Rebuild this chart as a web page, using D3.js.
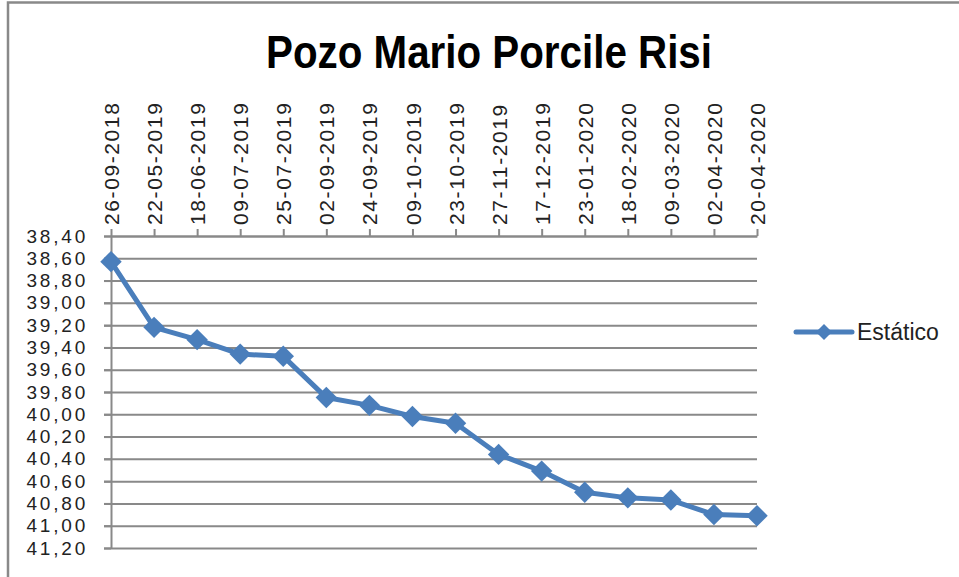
<!DOCTYPE html>
<html>
<head>
<meta charset="utf-8">
<script src="https://cdn.jsdelivr.net/npm/d3@7"></script>
<style>
  body { margin: 0; background: #fff; }
  svg { display: block; font-family: "Liberation Sans", Arial, sans-serif; }
</style>
</head>
<body>
<div id="grafico"></div>
<script>
// datos
const fechas = ["26-09-2018", "22-05-2019", "18-06-2019", "09-07-2019", "25-07-2019",
  "02-09-2019", "24-09-2019", "09-10-2019", "23-10-2019", "27-11-2019", "17-12-2019",
  "23-01-2020", "18-02-2020", "09-03-2020", "02-04-2020", "20-04-2020"];
const estatico = [38.63, 39.22, 39.33, 39.46, 39.48, 39.85, 39.92, 40.02, 40.08,
  40.36, 40.51, 40.70, 40.75, 40.77, 40.90, 40.91];
const ticksY = [38.4, 38.6, 38.8, 39.0, 39.2, 39.4, 39.6, 39.8, 40.0, 40.2, 40.4,
  40.6, 40.8, 41.0, 41.2];
const titulo = "Pozo Mario Porcile Risi";
const serie = "Estático";

const ancho = 959, alto = 577;
const azul = "#4a7ebb", gris = "#898989";

const svg = d3.select("#grafico").append("svg")
  .attr("width", ancho)
  .attr("height", alto);

// borde del area del grafico
svg.append("path")
  .attr("d", `M8,${alto} L8,2.5 L${ancho},2.5`)
  .attr("fill", "none")
  .attr("stroke", gris)
  .attr("stroke-width", 2.5);

const x = d3.scalePoint().domain(fechas).range([111, 757]);
const y = d3.scaleLinear().domain([38.4, 41.2]).range([236, 548]);

const es = d3.formatLocale({decimal: ",", thousands: ".", grouping: [3], currency: ["", ""]});
const fmt = es.format(".2f");

// lineas de division
const grid = svg.append("g")
  .attr("transform", "translate(757,0)")
  .call(d3.axisLeft(y).tickValues(ticksY).tickSize(653).tickFormat(""));
grid.select(".domain").remove();
grid.selectAll("line").attr("stroke", gris).attr("stroke-width", 2);

// eje vertical
const ejeY = svg.append("g")
  .attr("transform", "translate(111,0)")
  .call(d3.axisLeft(y).tickValues(ticksY).tickSize(7).tickSizeOuter(0).tickPadding(16).tickFormat(fmt));
ejeY.selectAll("line, path").attr("stroke", gris).attr("stroke-width", 2);
ejeY.selectAll("text")
  .attr("fill", "#222")
  .style("font-size", "19px")
  .style("letter-spacing", "2.8px")
  .style("font-family", "Liberation Sans, Arial, sans-serif");

// eje de categorias arriba
const ejeX = svg.append("g")
  .attr("transform", "translate(0,236)")
  .call(d3.axisTop(x).tickSize(7).tickSizeOuter(0));
ejeX.selectAll("line, path").attr("stroke", gris).attr("stroke-width", 2);
ejeX.selectAll("text")
  .attr("y", 0)
  .attr("x", 11)
  .attr("dy", "0.36em")
  .attr("transform", "rotate(-90)")
  .style("text-anchor", "start")
  .attr("fill", "#222")
  .style("font-size", "21px")
  .style("letter-spacing", "1.6px")
  .style("font-family", "Liberation Sans, Arial, sans-serif");

// serie
const linea = d3.line()
  .x((d, i) => x(fechas[i]))
  .y(d => y(d));

svg.append("path")
  .datum(estatico)
  .attr("d", linea)
  .attr("fill", "none")
  .attr("stroke", azul)
  .attr("stroke-width", 5)
  .attr("stroke-linejoin", "round");

const rombo = d3.symbol(d3.symbolSquare, 230);
svg.selectAll(".marca")
  .data(estatico)
  .join("path")
  .attr("class", "marca")
  .attr("d", rombo)
  .attr("transform", (d, i) => `translate(${x(fechas[i])},${y(d)}) rotate(45)`)
  .attr("fill", azul);

// titulo
svg.append("text")
  .attr("x", 489)
  .attr("y", 68)
  .attr("text-anchor", "middle")
  .attr("textLength", 446)
  .attr("lengthAdjust", "spacingAndGlyphs")
  .style("font-size", "46px")
  .style("font-weight", "bold")
  .attr("fill", "#000")
  .text(titulo);

// leyenda
const leyenda = svg.append("g").attr("transform", "translate(796,332)");
leyenda.append("line")
  .attr("x1", 0).attr("x2", 56)
  .attr("stroke", azul)
  .attr("stroke-width", 5)
  .attr("stroke-linecap", "round");
leyenda.append("path")
  .attr("d", d3.symbol(d3.symbolSquare, 130))
  .attr("transform", "translate(28,0) rotate(45)")
  .attr("fill", azul);
leyenda.append("text")
  .attr("x", 61)
  .attr("y", 8)
  .attr("fill", "#222")
  .style("font-size", "23px")
  .text(serie);
</script>
</body>
</html>
